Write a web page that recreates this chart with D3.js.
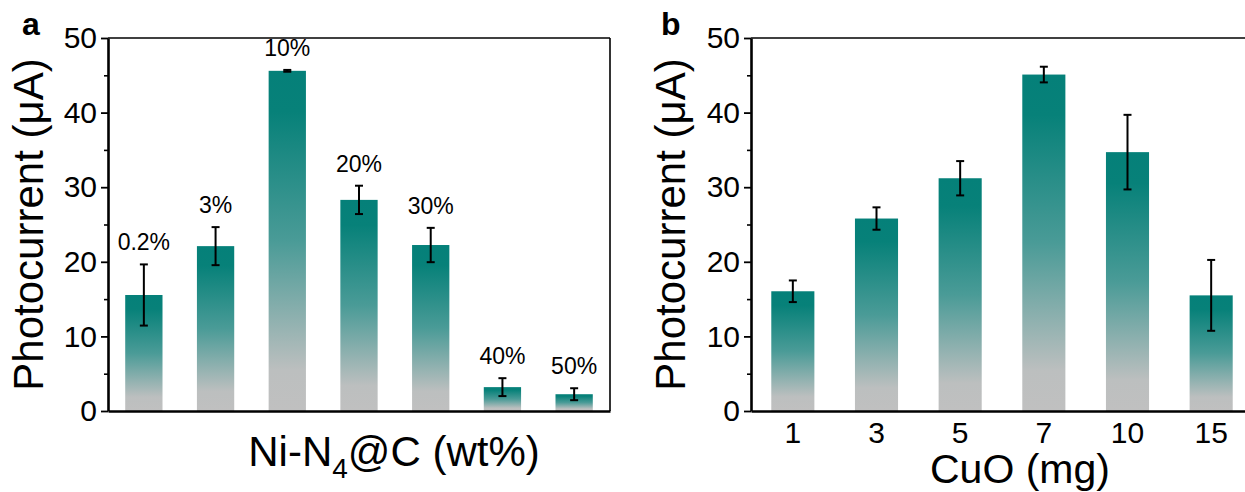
<!DOCTYPE html>
<html>
<head>
<meta charset="utf-8">
<script src="https://cdn.jsdelivr.net/npm/d3@7"></script>
<style>
  html, body { margin: 0; padding: 0; background: #fff; }
  svg { display: block; }
  text { font-family: Arial, "Liberation Sans", sans-serif; fill: #000; }
</style>
</head>
<body>
<svg id="chart" width="1245" height="492"></svg>
<script>
// ---------- data ----------
const catsA = ["0.2%", "3%", "10%", "20%", "30%", "40%", "50%"];
const valsA = [15.55, 22.1, 45.6, 28.3, 22.25, 3.2, 2.25];
const errA  = [4.1, 2.55, 0.12, 1.9, 2.3, 1.2, 0.8];

const catsB = ["1", "3", "5", "7", "10", "15"];
const valsB = [16.05, 25.8, 31.2, 45.1, 34.7, 15.5];
const errB  = [1.45, 1.5, 2.3, 1.05, 5.0, 4.75];

const yMajor = [0, 10, 20, 30, 40, 50];
const yMinor = [5, 15, 25, 35, 45];

const svg = d3.select("#chart");

// gradient
const defs = svg.append("defs");
const grad = defs.append("linearGradient").attr("id", "barGrad")
  .attr("x1", 0).attr("y1", 0).attr("x2", 0).attr("y2", 1);
[[0, "#058079"], [0.12, "#078179"], [0.5, "#4a9b97"], [0.88, "#bcbfbf"], [1, "#c0c0c0"]]
  .forEach(([o, c]) => grad.append("stop").attr("offset", o).attr("stop-color", c));

function panel(opts) {
  const { x0, x1, yTop, yBot, cats, vals, errs, showXLabels, barLabels, pad } = opts;
  const g = svg.append("g");
  const x = d3.scaleBand().domain(cats).range([x0, x1]).paddingInner(pad).paddingOuter(pad / 2);
  const y = d3.scaleLinear().domain([0, 50]).range([yBot, yTop]);

  // bars
  g.selectAll("rect.bar").data(cats).join("rect")
    .attr("class", "bar")
    .attr("x", d => x(d))
    .attr("width", x.bandwidth())
    .attr("y", (d, i) => y(vals[i]))
    .attr("height", (d, i) => y(0) - y(vals[i]))
    .attr("fill", "url(#barGrad)");

  // error bars
  const cap = 4;
  const eg = g.selectAll("g.err").data(cats).join("g").attr("class", "err")
    .attr("stroke", "#000").attr("stroke-width", 2);
  eg.append("line")
    .attr("x1", d => x(d) + x.bandwidth() / 2).attr("x2", d => x(d) + x.bandwidth() / 2)
    .attr("y1", (d, i) => y(vals[i] + errs[i])).attr("y2", (d, i) => y(vals[i] - errs[i]));
  eg.append("line")
    .attr("x1", d => x(d) + x.bandwidth() / 2 - cap).attr("x2", d => x(d) + x.bandwidth() / 2 + cap)
    .attr("y1", (d, i) => y(vals[i] + errs[i])).attr("y2", (d, i) => y(vals[i] + errs[i]));
  eg.append("line")
    .attr("x1", d => x(d) + x.bandwidth() / 2 - cap).attr("x2", d => x(d) + x.bandwidth() / 2 + cap)
    .attr("y1", (d, i) => y(vals[i] - errs[i])).attr("y2", (d, i) => y(vals[i] - errs[i]));

  if (barLabels) {
    g.selectAll("text.bl").data(cats).join("text")
      .attr("class", "bl")
      .attr("x", d => x(d) + x.bandwidth() / 2)
      .attr("y", (d, i) => y(vals[i] + errs[i]) - 14)
      .attr("text-anchor", "middle")
      .attr("font-size", 23)
      .text(d => d);
  }

  // frame top/right
  g.append("line").attr("x1", x0).attr("x2", x1).attr("y1", yTop).attr("y2", yTop)
    .attr("stroke", "#000").attr("stroke-width", 1.6);
  g.append("line").attr("x1", x1).attr("x2", x1).attr("y1", yTop).attr("y2", yBot)
    .attr("stroke", "#000").attr("stroke-width", 1.6);

  // y minor
  const yMin = g.append("g").attr("transform", `translate(${x0},0)`)
    .call(d3.axisLeft(y).tickValues(yMinor).tickSize(4).tickSizeOuter(0).tickFormat(""));
  yMin.select(".domain").remove();
  yMin.selectAll("line").attr("stroke-width", 1.6);
  // y major
  const yAx = g.append("g").attr("transform", `translate(${x0},0)`)
    .call(d3.axisLeft(y).tickValues(yMajor).tickSize(7).tickSizeOuter(0).tickPadding(4));
  yAx.select(".domain").attr("stroke-width", 2.6);
  yAx.selectAll("line").attr("stroke-width", 1.8);
  yAx.selectAll("text").attr("font-size", 30).style("font-family", "Arial, 'Liberation Sans', sans-serif");

  // x axis
  const xAx = g.append("g").attr("transform", `translate(0,${yBot})`)
    .call(d3.axisBottom(x).tickSize(0).tickSizeOuter(0).tickPadding(11)
      .tickFormat(showXLabels ? (d => d) : (() => "")));
  xAx.select(".domain").attr("stroke-width", 2.6);
  xAx.selectAll("text").attr("font-size", 30).style("font-family", "Arial, 'Liberation Sans', sans-serif");
  return g;
}

const gA = panel({ x0: 108, x1: 610, yTop: 38, yBot: 411, cats: catsA, vals: valsA, errs: errA,
  showXLabels: false, barLabels: true, pad: 0.48 });
const gB = panel({ x0: 751, x1: 1253, yTop: 38, yBot: 411, cats: catsB, vals: valsB, errs: errB,
  showXLabels: true, barLabels: false, pad: 0.485 });

// y titles
[[43, "Photocurrent (μA)"], [685, "Photocurrent (μA)"]].forEach(([bx, t]) => {
  svg.append("text")
    .attr("transform", `translate(${bx},224.5) rotate(-90)`)
    .attr("text-anchor", "middle")
    .attr("font-size", 42)
    .text(t);
});

// x titles
const xt = svg.append("text").attr("x", 394).attr("y", 466).attr("text-anchor", "middle").attr("font-size", 42);
xt.append("tspan").text("Ni-N");
xt.append("tspan").attr("font-size", 28).attr("dy", 12).text("4");
xt.append("tspan").attr("dy", -12).text("@C (wt%)");

svg.append("text").attr("x", 1020).attr("y", 483).attr("text-anchor", "middle").attr("font-size", 41)
  .text("CuO (mg)");

// panel letters
svg.append("text").attr("x", 22).attr("y", 35).attr("font-size", 32).attr("font-weight", "bold").text("a");
svg.append("text").attr("x", 661).attr("y", 35).attr("font-size", 32).attr("font-weight", "bold").text("b");
</script>
</body>
</html>
